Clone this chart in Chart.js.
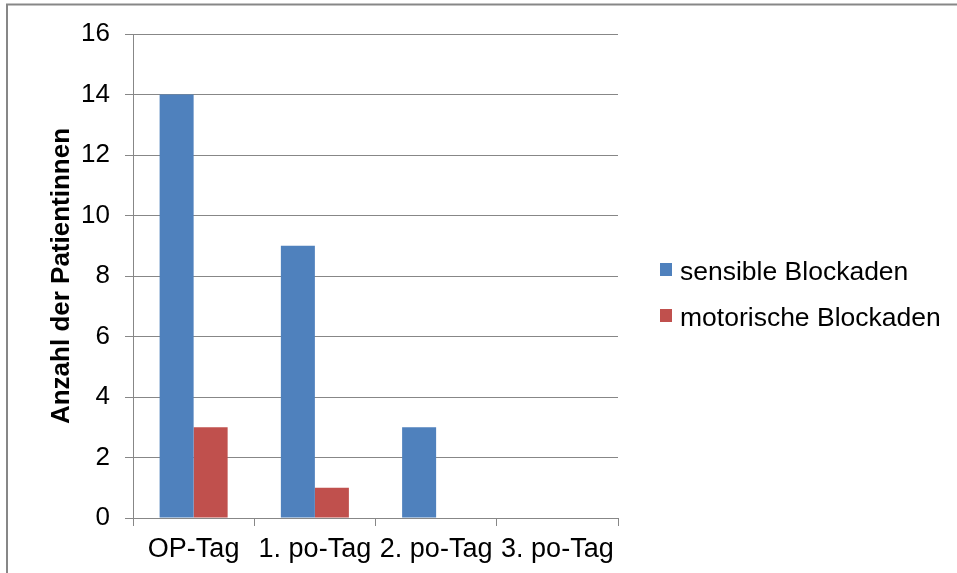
<!DOCTYPE html>
<html>
<head>
<meta charset="utf-8">
<script src="https://cdn.jsdelivr.net/npm/chart.js@4/dist/chart.umd.min.js"></script>
<style>
  html, body { margin: 0; padding: 0; background: #ffffff; }
  #wrap { width: 957px; height: 573px; }
</style>
</head>
<body>
<div id="wrap"><canvas id="c" width="957" height="573"></canvas></div>
<script>
// Tage nach der Operation
const categories = ['OP-Tag', '1. po-Tag', '2. po-Tag', '3. po-Tag'];
// Anzahl der Patientinnen mit Blockade
const sensibleBlockaden = [14, 9, 3, 0];
const motorischeBlockaden = [3, 1, 0, 0];
const seriesNames = ['sensible Blockaden', 'motorische Blockaden'];
const yAxisTitle = 'Anzahl der Patientinnen';

const FONT = "'Liberation Sans', Arial, sans-serif";
const GRID = '#878787';

// Rahmen um die gesamte Grafik
const framePlugin = {
  id: 'frame',
  beforeDraw(chart) {
    const ctx = chart.ctx;
    ctx.save();
    ctx.fillStyle = '#ffffff';
    ctx.fillRect(0, 0, chart.width, chart.height);
    ctx.strokeStyle = GRID;
    ctx.lineWidth = 2;
    ctx.strokeRect(7, 4.5, chart.width + 20, chart.height + 20);
    ctx.restore();
  }
};

// Legende rechts neben dem Diagramm
const sideLegend = {
  id: 'sideLegend',
  afterDraw(chart) {
    const ctx = chart.ctx;
    ctx.save();
    ctx.font = '26.5px ' + FONT;
    ctx.textBaseline = 'alphabetic';
    ctx.textAlign = 'left';
    chart.data.datasets.forEach((ds, i) => {
      const top = 263 + i * 46;
      ctx.fillStyle = ds.backgroundColor;
      ctx.fillRect(660, top, 12, 13);
      ctx.fillStyle = '#000000';
      ctx.fillText(ds.label, 680, top + 17);
    });
    ctx.restore();
  }
};

new Chart(document.getElementById('c'), {
  type: 'bar',
  data: {
    labels: categories,
    datasets: [
      { label: seriesNames[0], data: sensibleBlockaden, backgroundColor: '#4F81BD' },
      { label: seriesNames[1], data: motorischeBlockaden, backgroundColor: '#C0504D' }
    ]
  },
  options: {
    responsive: false,
    animation: false,
    devicePixelRatio: 1,
    layout: { padding: { left: 0, top: 34, right: 339, bottom: 0 } },
    datasets: {
      bar: { categoryPercentage: 0.561, barPercentage: 1.0, borderWidth: 0 }
    },
    plugins: {
      legend: { display: false },
      tooltip: { enabled: false }
    },
    scales: {
      x: {
        offset: true,
        grid: {
          offset: true,
          drawOnChartArea: false,
          drawTicks: true,
          tickLength: 8,
          color: GRID,
          lineWidth: 1
        },
        border: { display: true, color: GRID, width: 1 },
        ticks: {
          color: '#000000',
          font: { family: FONT, size: 27 },
          padding: 7,
          maxRotation: 0,
          autoSkip: false
        },
        afterFit(scale) { scale.height = 55; }
      },
      y: {
        min: 0,
        max: 16,
        grid: {
          color: GRID,
          lineWidth: 1,
          drawTicks: true,
          tickLength: 8
        },
        border: { display: true, color: GRID, width: 1 },
        ticks: {
          stepSize: 2,
          color: '#000000',
          font: { family: FONT, size: 26 },
          padding: 15
        },
        title: {
          display: true,
          text: yAxisTitle,
          color: '#000000',
          font: { family: FONT, size: 26, weight: 'bold' },
          padding: { top: 46, bottom: 0 }
        },
        afterFit(scale) { scale.width = 133; }
      }
    }
  },
  plugins: [framePlugin, sideLegend]
});
</script>
</body>
</html>
